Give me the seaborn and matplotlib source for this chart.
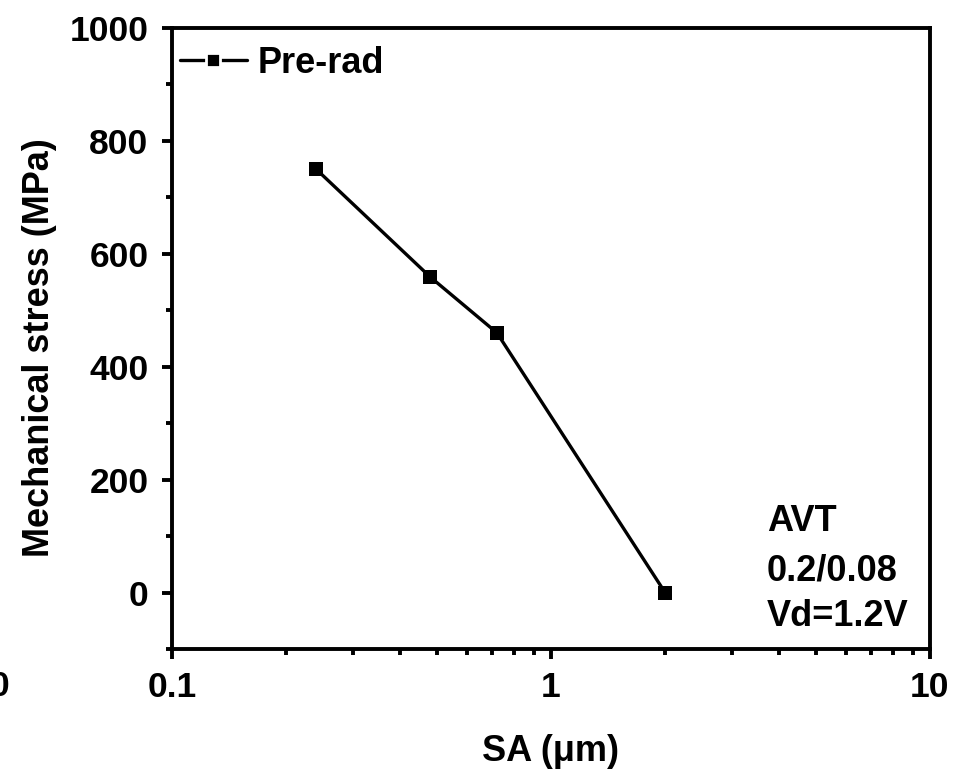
import matplotlib
matplotlib.use("Agg")
import matplotlib.pyplot as plt
import seaborn as sns
import pandas as pd
from matplotlib.ticker import LogLocator, FixedLocator, NullFormatter, MultipleLocator

sa_um = [0.24, 0.48, 0.72, 2.0]
stress_mpa = [750, 559, 460, 0]
series_name = "Pre-rad"
x_ticks = [0.1, 1, 10]
x_tick_labels = ["0.1", "1", "10"]
y_ticks = [0, 200, 400, 600, 800, 1000]
note_lines = ["AVT", "0.2/0.08", "Vd=1.2V"]

sns.set_style("ticks")
plt.rcParams["font.family"] = ["Liberation Sans", "DejaVu Sans"]
plt.rcParams["font.weight"] = "bold"
for k in ["text.color", "axes.labelcolor", "xtick.color", "ytick.color", "axes.edgecolor"]:
    plt.rcParams[k] = "black"

df = pd.DataFrame({"SA": sa_um, "Stress": stress_mpa, "Series": series_name})

fig = plt.figure(figsize=(9.69, 7.71), dpi=100)
ax = fig.add_axes([172/969, 1 - 649/771, (930-172)/969, (649-28)/771])

sns.lineplot(data=df, x="SA", y="Stress", hue="Series", palette=["black"],
             marker="s", markersize=9.5, markeredgewidth=0, linewidth=2.4, ax=ax,
             sort=False, legend=True)

ax.set_xscale("log")
ax.set_xlim(0.1, 10)
ax.set_ylim(-100, 1000)
ax.xaxis.set_major_locator(FixedLocator(x_ticks))
ax.set_xticklabels(x_tick_labels)
ax.xaxis.set_minor_locator(LogLocator(base=10, subs=range(2, 10)))
ax.xaxis.set_minor_formatter(NullFormatter())
ax.yaxis.set_major_locator(FixedLocator(y_ticks))
ax.yaxis.set_minor_locator(MultipleLocator(100))

for s in ax.spines.values():
    s.set_linewidth(2.8)
    s.set_visible(True)

ax.tick_params(axis="both", which="major", direction="out", length=7, width=2.8,
               labelsize=25.5)
ax.tick_params(axis="x", which="major", pad=9)
ax.tick_params(axis="y", which="major", pad=10)
ax.tick_params(axis="both", which="minor", direction="out", length=4.5, width=2.8)
for lab in ax.get_xticklabels() + ax.get_yticklabels():
    lab.set_fontweight("bold")

ax.set_xlabel("SA (\u03bcm)", fontsize=26, fontweight="bold", labelpad=21.5)
ax.set_ylabel("Mechanical stress (MPa)", fontsize=26, fontweight="bold")
ax.yaxis.set_label_coords(-0.152, 0.485)

leg = ax.legend(loc="upper left", bbox_to_anchor=(0.0106, 0.971), frameon=False,
                handlelength=1.85, handletextpad=0.3, borderaxespad=0, borderpad=0,
                title=None, prop={"weight": "bold", "size": 26})
for h in leg.legend_handles:
    h.set_markeredgecolor("white")
    h.set_markeredgewidth(2.0)
    h.set_markersize(10)

for yf, line in zip([0.190, 0.111, 0.037], note_lines):
    ax.text(0.785, yf, line, transform=ax.transAxes,
            fontsize=26, fontweight="bold", ha="left", va="baseline")

fig.text(9/969, 1 - 687/771, "0", fontsize=25.5, fontweight="bold", ha="right", va="center")

fig.savefig("out.png", dpi=100)
